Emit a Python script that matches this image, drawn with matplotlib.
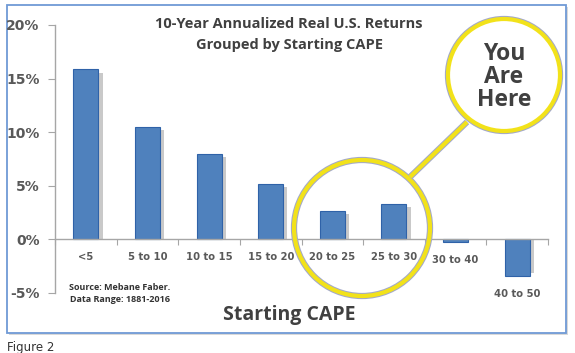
import matplotlib.pyplot as plt
import matplotlib.patheffects as pe
from matplotlib.patches import Circle, Rectangle
import numpy as np

categories = ['<5', '5 to 10', '10 to 15', '15 to 20', '20 to 25', '25 to 30', '30 to 40', '40 to 50']
returns = [15.85, 10.5, 8.0, 5.2, 2.65, 3.3, -0.25, -3.4]
yticks = [-5, 0, 5, 10, 15, 20]

W, H = 575, 353
fig = plt.figure(figsize=(W / 100, H / 100), dpi=100)
fig.patch.set_facecolor('white')

# overlay in pixel coords for frame, circles and free text
ov = fig.add_axes([0, 0, 1, 1], zorder=0)
ov.set_xlim(0, W)
ov.set_ylim(H, 0)
ov.axis('off')
ov.add_patch(Rectangle((9, 7), 559, 328, facecolor='#d9d9d9', edgecolor='none'))
ov.add_patch(Rectangle((7, 5), 559, 328, facecolor='white', edgecolor='#6f9ad6', lw=1.3))
ov.text(7, 347, 'Figure 2', fontsize=8.5, color='#333333', va='center', ha='left')

ax = fig.add_axes([55 / W, 60 / H, 493 / W, 268 / H], zorder=1)
ax.patch.set_alpha(0)
x = np.arange(len(categories))
bw = 0.405
shadow = [v - np.sign(v) * 0.3 for v in returns]
ax.bar(x + 0.07, shadow, width=bw, color='#c9c9c9', zorder=1)
ax.bar(x, returns, width=bw, color='#4f81bd', edgecolor='#2f62a8', lw=0.8, zorder=2)

ax.set_xlim(-0.5, len(categories) - 0.5)
ax.set_ylim(-5, 20)
ax.spines[['top', 'right']].set_visible(False)
ax.spines['bottom'].set_position(('data', 0))
for s in ['left', 'bottom']:
    ax.spines[s].set_color('#a6a6a6')
    ax.spines[s].set_linewidth(1.0)
ax.set_xticks(np.arange(len(categories) + 1) - 0.5)
ax.set_xticklabels([])
ax.tick_params(axis='x', direction='out', length=4, color='#a6a6a6')
ax.set_yticks(yticks)
ax.set_yticklabels([f'{t}%' for t in yticks], fontsize=10, fontweight='bold', color='#595959')
ax.tick_params(axis='y', direction='out', length=5, color='#a6a6a6', pad=6)

for i, (c, v) in enumerate(zip(categories, returns)):
    ax.annotate(c, xy=(i, min(0, v)), xytext=(0, -13), textcoords='offset points',
                ha='center', va='center', fontsize=7.2, fontweight='bold', color='#595959')

ov2 = fig.add_axes([0, 0, 1, 1], zorder=3)
ov2.set_xlim(0, W)
ov2.set_ylim(H, 0)
ov2.axis('off')
ov2.patch.set_alpha(0)

ov2.text(289, 24, '10-Year Annualized Real U.S. Returns', fontsize=10.5, family='Open Sans',
         fontweight='bold', color='#404040', ha='center', va='center')
ov2.text(289, 45, 'Grouped by Starting CAPE', fontsize=10.5, family='Open Sans',
         fontweight='bold', color='#404040', ha='center', va='center')
ov2.text(289, 315, 'Starting CAPE', fontsize=14, family='Open Sans',
         fontweight='bold', color='#404040', ha='center', va='center')
ov2.text(120, 287, 'Source: Mebane Faber.', fontsize=6.5, family='Open Sans',
         fontweight='bold', color='#333333', ha='center', va='center')
ov2.text(120, 299, 'Data Range: 1881-2016', fontsize=6.5, family='Open Sans',
         fontweight='bold', color='#333333', ha='center', va='center')

ring = [pe.Stroke(linewidth=4.5, foreground='#a3a9c9'), pe.Normal()]
ov2.plot([467, 410], [122, 177], color='#f2e21a', lw=3, solid_capstyle='butt', path_effects=ring)
ov2.add_patch(Circle((362, 228), 68, facecolor='none', edgecolor='#f2e21a', lw=3, path_effects=ring))
ov2.add_patch(Circle((504, 75), 56, facecolor='white', edgecolor='#f2e21a', lw=3, path_effects=ring))
ov2.text(504, 77, 'You\nAre\nHere', fontsize=16.5, family='Open Sans', fontweight='bold',
         color='#404040', ha='center', va='center', linespacing=0.95)

fig.savefig('out.png', dpi=100)
